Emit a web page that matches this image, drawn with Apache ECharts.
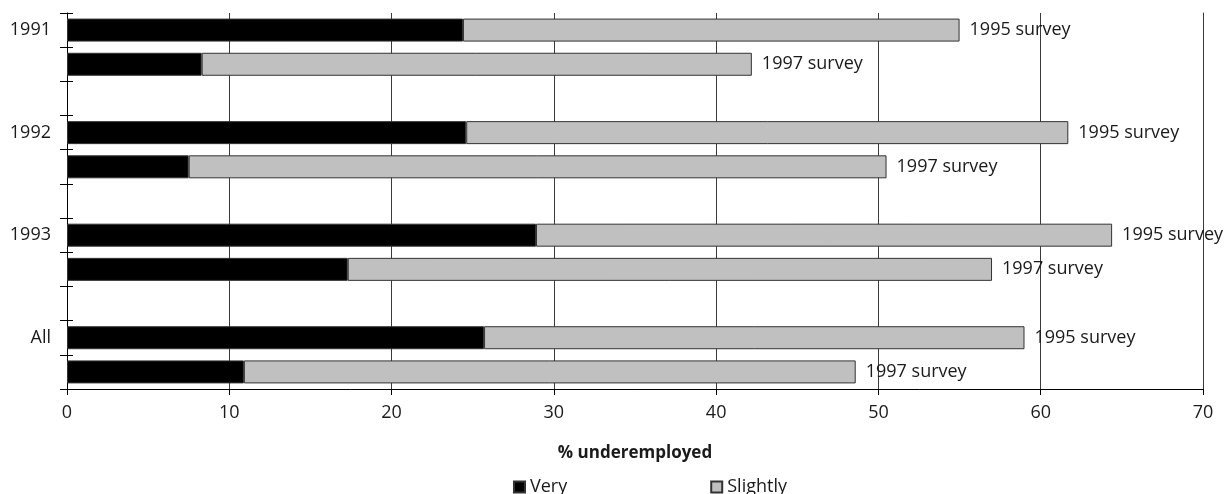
<!DOCTYPE html>
<html>
<head>
<meta charset="utf-8">
<script src="https://cdn.jsdelivr.net/npm/echarts@6/dist/echarts.min.js"></script>
<style>
  html, body { margin: 0; padding: 0; background: #fff; }
  #chart { width: 1225px; height: 494px; }
</style>
</head>
<body>
<div id="chart"></div>
<script>
// Year groups and the two survey rounds shown within each group
const groups = ['1991', '1992', '1993', 'All'];
const surveys = ['1995 survey', '1997 survey'];

// Percentage underemployed, per group, for each survey
const very1995 = [24.4, 24.6, 28.9, 25.7];
const very1997 = [8.3, 7.5, 17.3, 10.9];
const slightly1995 = [30.6, 37.1, 35.5, 33.3];
const slightly1997 = [33.9, 43.0, 39.7, 37.7];

// x-axis range
const xMin = 0, xMax = 70, xStep = 10;

// Build the row layout: two bars per group, blank row between groups
const rowKeys = [], rowLabels = [], rowSurvey = [], veryRows = [], slightlyRows = [];
groups.forEach((g, i) => {
  const pairs = [[very1995[i], slightly1995[i]], [very1997[i], slightly1997[i]]];
  pairs.forEach((p, j) => {
    rowKeys.push(g + '-' + j);
    rowLabels.push(j === 0 ? g : '');
    rowSurvey.push(surveys[j]);
    veryRows.push(p[0]);
    slightlyRows.push(p[1]);
  });
  if (i < groups.length - 1) {
    rowKeys.push('gap-' + i);
    rowLabels.push('');
    rowSurvey.push('');
    veryRows.push(null);
    slightlyRows.push(null);
  }
});

const FONT = '"Open Sans", "Noto Sans", sans-serif';
const TEXT = '#1a1a1a';
const EDGE = '#333';
const GRID = '#3a3a3a';
const FS = 18;

const chart = echarts.init(document.getElementById('chart'), null, { renderer: 'canvas' });
chart.setOption({
  animation: false,
  backgroundColor: '#fff',
  textStyle: { fontFamily: FONT },
  grid: { left: 67, right: 22, top: 13, bottom: 105, containLabel: false },
  legend: {
    left: 513, top: 478, padding: 0,
    itemWidth: 11, itemHeight: 11, itemGap: 143,
    icon: 'rect',
    textStyle: { fontFamily: FONT, fontSize: FS, color: TEXT },
    data: ['Very', 'Slightly']
  },
  xAxis: {
    type: 'value',
    min: xMin, max: xMax, interval: xStep,
    name: '% underemployed',
    nameLocation: 'middle',
    nameGap: 56,
    nameTextStyle: { fontFamily: FONT, fontSize: 17, fontWeight: 'bold', color: TEXT },
    axisLine: { show: true, lineStyle: { color: '#000', width: 1 } },
    axisTick: { show: true, length: 6, lineStyle: { color: '#000' } },
    axisLabel: { fontFamily: FONT, fontSize: FS, color: TEXT, margin: 15 },
    splitLine: { show: true, showMinLine: true, showMaxLine: true, lineStyle: { color: GRID, width: 1 } }
  },
  yAxis: [
    {
      type: 'category',
      inverse: true,
      data: rowKeys,
      position: 'left',
      axisLine: { show: true, lineStyle: { color: '#000', width: 1 } },
      axisTick: { show: true, length: 7, interval: 0, lineStyle: { color: '#000' } },
      axisLabel: {
        interval: 0, margin: 16, fontFamily: FONT, fontSize: FS, color: TEXT,
        formatter: (v, idx) => rowLabels[idx]
      },
      splitLine: { show: false }
    },
    {
      // inner half of the crossing tick marks
      type: 'category',
      inverse: true,
      data: rowKeys,
      position: 'left',
      axisLine: { show: false },
      axisTick: { show: true, inside: true, length: 6, interval: 0, lineStyle: { color: '#000' } },
      axisLabel: { show: false },
      splitLine: { show: false }
    },
    {
      // closing gridline at the right end of the value range
      type: 'category',
      inverse: true,
      data: rowKeys,
      position: 'right',
      axisLine: { show: true, lineStyle: { color: GRID, width: 1 } },
      axisTick: { show: false },
      axisLabel: { show: false },
      splitLine: { show: false }
    }
  ],
  series: [
    {
      name: 'Very',
      type: 'bar',
      stack: 'total',
      yAxisIndex: 0,
      barWidth: 23,
      data: veryRows,
      itemStyle: { color: '#000', borderColor: EDGE, borderWidth: 1 }
    },
    {
      name: 'Slightly',
      type: 'bar',
      stack: 'total',
      yAxisIndex: 0,
      barWidth: 23,
      data: slightlyRows,
      itemStyle: { color: '#c0c0c0', borderColor: EDGE, borderWidth: 1 },
      label: {
        show: true,
        position: 'right',
        distance: 10,
        fontFamily: FONT, fontSize: FS, color: TEXT,
        formatter: p => rowSurvey[p.dataIndex]
      }
    }
  ]
});
</script>
</body>
</html>
